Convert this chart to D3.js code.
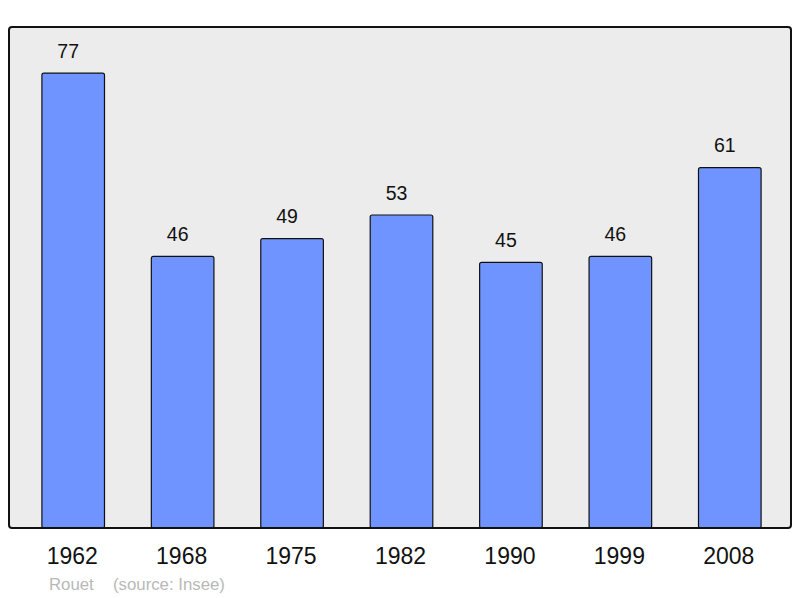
<!DOCTYPE html>
<html>
<head>
<meta charset="utf-8">
<style>
  body { margin: 0; background: #fff; }
  svg { display: block; font-family: "Liberation Sans", Arial, sans-serif; }
</style>
</head>
<body>
<svg id="chart" width="800" height="598"></svg>
<script src="https://d3js.org/d3.v7.min.js"></script>
<script>
var years = ["1962", "1968", "1975", "1982", "1990", "1999", "2008"];
var population = [77, 46, 49, 53, 45, 46, 61];
var commune = "Rouet";
var source = "(source: Insee)";

var svg = d3.select("#chart"),
    frame = {left: 9, top: 27, right: 791, bottom: 528};

var x = d3.scaleBand()
    .domain(years)
    .range([frame.left + 1.5, frame.right + 1.5])
    .paddingInner(0.428)
    .paddingOuter(0.287);

var y = d3.scaleLinear()
    .domain([0, d3.max(population) * 1.1])
    .range([frame.bottom, frame.top]);

svg.append("rect")
    .attr("x", frame.left)
    .attr("y", frame.top)
    .attr("width", frame.right - frame.left)
    .attr("height", frame.bottom - frame.top)
    .attr("rx", 3)
    .attr("fill", "#ececec")
    .attr("stroke", "none");

var data = years.map(function(d, i) { return {year: d, value: population[i]}; });

svg.selectAll(".bar")
    .data(data)
  .enter().append("rect")
    .attr("class", "bar")
    .attr("x", function(d) { return x(d.year); })
    .attr("y", function(d) { return y(d.value) + 0.5; })
    .attr("width", x.bandwidth())
    .attr("height", function(d) { return frame.bottom - 0.5 - y(d.value); })
    .attr("rx", 2)
    .attr("fill", "#7094ff")
    .attr("stroke", "#111")
    .attr("stroke-width", 1.2);

// value labels sit a little left of the bar centre, like the original
svg.selectAll(".val")
    .data(data)
  .enter().append("text")
    .attr("class", "val")
    .attr("x", function(d) { return x(d.year) + x.bandwidth() / 2 - 5; })
    .attr("y", function(d) { return y(d.value) - 15; })
    .attr("text-anchor", "middle")
    .attr("font-size", 19.5)
    .attr("fill", "#111")
    .text(function(d) { return d.value; });

// frame border on top of bars
svg.append("rect")
    .attr("x", frame.left)
    .attr("y", frame.top)
    .attr("width", frame.right - frame.left)
    .attr("height", frame.bottom - frame.top)
    .attr("rx", 3)
    .attr("fill", "none")
    .attr("stroke", "#111")
    .attr("stroke-width", 2);

var xAxis = svg.append("g")
    .attr("transform", "translate(-1," + frame.bottom + ")")
    .call(d3.axisBottom(x).tickSize(0).tickPadding(20));
xAxis.select(".domain").remove();
xAxis.selectAll("text")
    .attr("font-size", 23)
    .attr("font-family", "Liberation Sans, Arial, sans-serif")
    .attr("fill", "#111");

svg.append("text")
    .attr("x", 49)
    .attr("y", 590)
    .attr("font-size", 16.8)
    .attr("fill", "#b8b8b8")
    .text(commune);

svg.append("text")
    .attr("x", 113)
    .attr("y", 590)
    .attr("font-size", 16.8)
    .attr("fill", "#b8b8b8")
    .text(source);
</script>
</body>
</html>
